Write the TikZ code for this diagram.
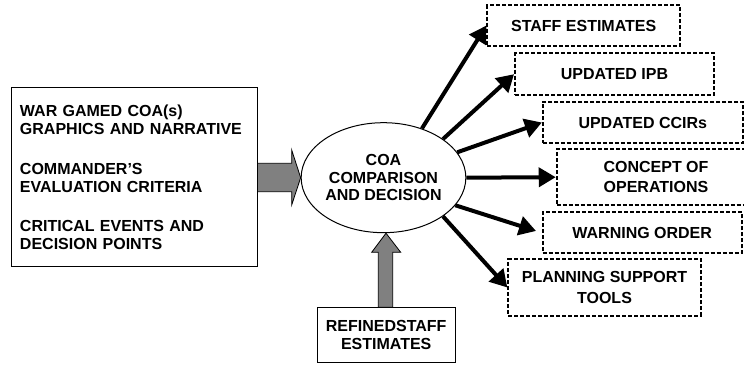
\documentclass[tikz,border=0pt]{standalone}
\usepackage{fontspec}
\setmainfont{Liberation Sans}
\usetikzlibrary{arrows.meta,shapes.geometric,calc}
\begin{document}
\begin{tikzpicture}[x=0.75pt,y=-0.75pt,
  txt/.style={font=\fontsize{12pt}{13.2pt}\selectfont\bfseries},
  solidbox/.style={txt,draw,line width=0.75pt,inner sep=0pt,align=center},
  dashbox/.style={txt,draw,line width=1.4pt,dash pattern=on 3pt off 1.5pt,
    inner sep=0pt,align=center,font=\fontsize{12pt}{15.4pt}\selectfont\bfseries},
  outarrow/.style={line width=3pt,-{Triangle[length=12.75pt 0 0,width=14.25pt 0 0]}},
  blockarrow/.style={fill=gray,draw=black,line width=0.6pt,line join=miter}]
\useasboundingbox (0,0) rectangle (744,366);
\clip (0,0) rectangle (744,366);

% input box
\node[solidbox,align=left,minimum width=184.5pt,minimum height=134.25pt,
  text width=171pt,inner xsep=6.75pt] (inbox) at (134,177.5)
  {WAR GAMED COA(s)\\GRAPHICS AND NARRATIVE\\[16.7pt]COMMANDER’S\\EVALUATION CRITERIA\\[16.7pt]CRITICAL EVENTS AND\\DECISION POINTS};

% central ellipse
\node[ellipse,draw,line width=0.75pt,minimum width=120pt,minimum height=82.5pt,
  inner sep=0pt,align=center,font=\fontsize{12pt}{13pt}\selectfont\bfseries]
  (ell) at (383.5,177.7) {COA\\COMPARISON\\AND DECISION};

% bottom box
\node[solidbox,minimum width=103.3pt,minimum height=41.25pt,
  font=\fontsize{12pt}{13.7pt}\selectfont\bfseries]
  (refined) at (386.2,335.2) {REFINEDSTAFF\\ESTIMATES};

% output boxes
\node[dashbox,minimum width=144.5pt,minimum height=30.75pt] (b1) at (583.7,25.5) {STAFF ESTIMATES};
\node[dashbox,minimum width=149.25pt,minimum height=31.3pt] (b2) at (614.5,74.2) {UPDATED IPB};
\node[dashbox,minimum width=150pt,minimum height=31.2pt] (b3) at (642.8,122.5) {UPDATED CCIRs};
\node[dashbox,minimum width=149pt,minimum height=41.8pt] (b4) at (656,177.2) {CONCEPT OF\\OPERATIONS};
\node[dashbox,minimum width=149.25pt,minimum height=30.75pt] (b5) at (642.2,232.8) {WARNING ORDER};
\node[dashbox,minimum width=144.3pt,minimum height=42.3pt] (b6) at (604.5,287.5) {PLANNING SUPPORT\\TOOLS};

% block arrows
\draw[blockarrow] (inbox.east |- 0,163.3) -- (291.7,163.3) -- (291.7,150) -- (ell.west)
  -- (291.7,205) -- (291.7,191.7) -- (inbox.east |- 0,191.7) -- cycle;
\coordinate (uptip) at ($(ell.south)+(2.5,0)$);
\draw[blockarrow] (378.3,0 |- refined.north) -- (378.3,252.3) -- (371.7,252.3) -- (uptip)
  -- (400.7,252.3) -- (392.7,252.3) -- (392.7,0 |- refined.north) -- cycle;

% output arrows
\draw[outarrow] (ell.52) -- (b1.west);
\draw[outarrow] (ell.33) -- (b2.west);
\draw[outarrow] (ell.19) -- (b3.west);
\draw[outarrow] (ell.0) -- (b4.west);
\draw[outarrow,shorten >=4.5pt] (ell.-21) -- (b5.west);
\draw[outarrow] (ell.-33) -- (b6.west);
\end{tikzpicture}
\end{document}
